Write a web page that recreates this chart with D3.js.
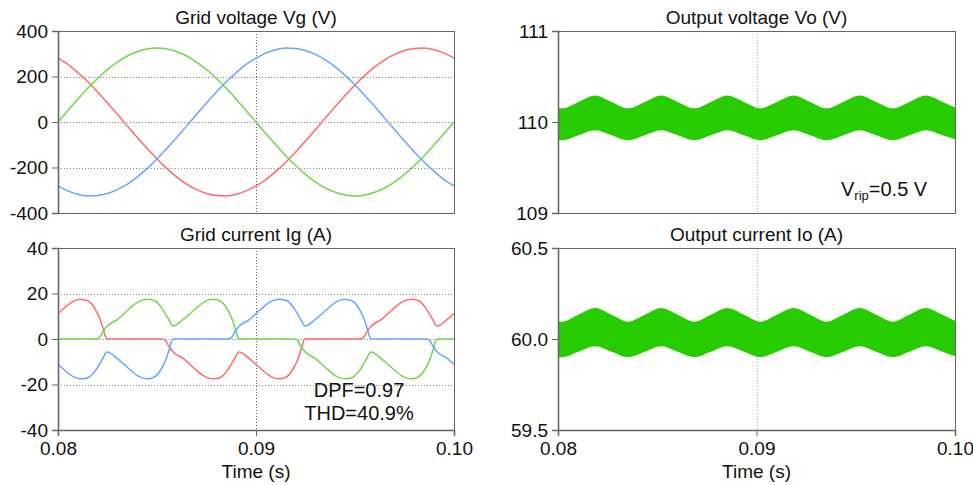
<!DOCTYPE html>
<html>
<head>
<meta charset="utf-8">
<script src="https://cdn.jsdelivr.net/npm/d3@7"></script>
<style>
	body { margin: 0; background: #fff; }
	text { font-family: "Liberation Sans", Arial, sans-serif; fill: #111; }
</style>
</head>
<body>
<div id="chartDiv"></div>
<script>

// time axis (ms, labelled in s)
var timeTicks = [80, 90, 100];
var vgTicks = [-400, -200, 0, 200, 400];
var igTicks = [-40, -20, 0, 20, 40];
var voTicks = [109, 110, 111];
var ioTicks = [59.5, 60.0, 60.5];

// grid voltage, sampled every 0.5 ms
var vgTime = [80,80.5,81,81.5,82,82.5,83,83.5,84,84.5,85,85.5,86,86.5,87,87.5,88,88.5,89,89.5,90,
	90.5,91,91.5,92,92.5,93,93.5,94,94.5,95,95.5,96,96.5,97,97.5,98,98.5,99,99.5,100];
var vgRed = [281,253,217,177,132,84,34,-17,-68,-116,-163,-205,-242,-273,-297,-314,-323,-325,-318,-303,-281,
	-253,-217,-177,-132,-84,-34,17,68,116,163,205,242,273,297,314,323,325,318,303,281];
var vgGreen = [0,51,100,148,191,230,263,290,309,321,325,321,309,290,263,230,191,148,100,51,0,
	-51,-100,-148,-191,-230,-263,-290,-309,-321,-325,-321,-309,-290,-263,-230,-191,-148,-100,-51,0];
var vgBlue = [-281,-303,-318,-325,-323,-314,-297,-273,-242,-205,-163,-116,-68,-17,34,84,132,177,217,253,281,
	303,318,325,323,314,297,273,242,205,163,116,68,17,-34,-84,-132,-177,-217,-253,-281];

// grid current [t ms, A]
var igRed = [[80.00,11.2],[80.16,12.4],[80.66,16.0],[80.94,17.2],[81.16,17.5],[81.50,16.8],[81.86,13.4],[82.11,9.0],[82.28,4.5],[82.38,1.5],[82.46,0],
	[85.26,0],[85.43,-0.7],[85.60,-3.2],[85.82,-5.7],[86.32,-8.5],[86.82,-12.4],[87.32,-16.0],[87.62,-17.2],[87.88,-17.5],[88.22,-16.8],[88.55,-13.9],[88.89,-9.1],[89.14,-5.7],
	[89.66,-8.6],[90.16,-12.4],[90.66,-16.0],[90.94,-17.2],[91.16,-17.5],[91.50,-16.8],[91.86,-13.4],[92.11,-9.0],[92.28,-4.5],[92.38,-1.5],[92.46,0],
	[95.26,0],[95.43,0.7],[95.60,3.2],[95.82,5.7],[96.32,8.5],[96.82,12.4],[97.32,16.0],[97.62,17.2],[97.88,17.5],[98.22,16.8],[98.55,13.9],[98.89,9.1],[99.14,5.7],
	[99.66,8.6],[100.00,11.2]];
var igGreen = [[80,0],[81.93,0],[82.10,0.7],[82.27,3.2],[82.49,5.7],[82.99,8.5],[83.49,12.4],[83.99,16.0],[84.29,17.2],[84.55,17.5],[84.89,16.8],[85.22,13.9],[85.56,9.1],[85.81,5.7],
	[86.33,8.6],[86.83,12.4],[87.33,16.0],[87.61,17.2],[87.83,17.5],[88.17,16.8],[88.53,13.4],[88.78,9.0],[88.95,4.5],[89.05,1.5],[89.13,0],
	[91.93,0],[92.10,-0.7],[92.27,-3.2],[92.49,-5.7],[92.99,-8.5],[93.49,-12.4],[93.99,-16.0],[94.29,-17.2],[94.55,-17.5],[94.89,-16.8],[95.22,-13.9],[95.56,-9.1],[95.81,-5.7],
	[96.33,-8.6],[96.83,-12.4],[97.33,-16.0],[97.61,-17.2],[97.83,-17.5],[98.17,-16.8],[98.53,-13.4],[98.78,-9.0],[98.95,-4.5],[99.05,-1.5],[99.13,0],[100,0]];
var igBlue = [[80.00,-11.2],[80.16,-12.4],[80.66,-16.0],[80.96,-17.2],[81.22,-17.5],[81.56,-16.8],[81.89,-13.9],[82.23,-9.1],[82.48,-5.7],
	[83.00,-8.6],[83.50,-12.4],[84.00,-16.0],[84.28,-17.2],[84.50,-17.5],[84.84,-16.8],[85.20,-13.4],[85.45,-9.0],[85.62,-4.5],[85.72,-1.5],[85.80,0],
	[88.60,0],[88.77,0.7],[88.94,3.2],[89.16,5.7],[89.66,8.5],[90.16,12.4],[90.66,16.0],[90.96,17.2],[91.22,17.5],[91.56,16.8],[91.89,13.9],[92.23,9.1],[92.48,5.7],
	[93.00,8.6],[93.50,12.4],[94.00,16.0],[94.28,17.2],[94.50,17.5],[94.84,16.8],[95.20,13.4],[95.45,9.0],[95.62,4.5],[95.72,1.5],[95.80,0],
	[98.60,0],[98.77,-0.7],[98.94,-3.2],[99.16,-5.7],[99.66,-8.5],[100.00,-11.2]];

// output ripple envelopes (switching band), peaks / troughs / midpoints
var rippleTime = [80.0,80.2,81.03,81.87,82.7,83.53,84.37,85.2,86.03,86.87,87.7,88.53,89.37,90.2,91.03,91.87,92.7,93.53,94.37,95.2,96.03,96.87,97.7,98.53,99.37,100.0];
var voUpper = [110.15,110.15,110.22,110.29,110.22,110.15,110.22,110.29,110.22,110.15,110.22,110.29,110.22,110.15,110.22,110.29,110.22,110.15,110.22,110.29,110.22,110.15,110.22,110.29,110.22,110.16];
var voLower = [109.80,109.80,109.855,109.91,109.855,109.80,109.855,109.91,109.855,109.80,109.855,109.91,109.855,109.80,109.855,109.91,109.855,109.80,109.855,109.91,109.855,109.80,109.855,109.91,109.855,109.81];
var ioUpper = [60.095,60.095,60.133,60.17,60.133,60.095,60.133,60.17,60.133,60.095,60.133,60.17,60.133,60.095,60.133,60.17,60.133,60.095,60.133,60.17,60.133,60.095,60.133,60.17,60.133,60.10];
var ioLower = [59.90,59.90,59.93,59.96,59.93,59.90,59.93,59.96,59.93,59.90,59.93,59.96,59.93,59.90,59.93,59.96,59.93,59.90,59.93,59.96,59.93,59.90,59.93,59.96,59.93,59.905];

;(function() {

	var width = 973;
	var height = 485;
	var fontSize = 19;
	var red = "#ff6a6a", green = "#6cd94a", blue = "#62a8ff", band = "#27cc00";

	// plain hyphen for negatives, like the original plot
	var fmtInt = function(d) { return String(d); };
	var fmtOne = function(d) { return d.toFixed(1); };

	var svg = d3.select("#chartDiv").append("svg")
		.attr("width", width)
		.attr("height", height);

	function panel(o) {
		var g = svg.append("g").attr("transform", "translate(" + o.left + "," + o.top + ")");
		var x = d3.scaleLinear().domain([80, 100]).range([0, o.w]);
		var y = d3.scaleLinear().domain(o.yDomain).range([o.h, 0]);

		g.append("clipPath").attr("id", o.id + "-clip")
			.append("rect").attr("width", o.w).attr("height", o.h);

		// grid
		if (o.hGrid) {
			g.selectAll(".hgrid").data(o.yTicks.slice(1, -1)).enter().append("line")
				.attr("x1", 0).attr("x2", o.w)
				.attr("y1", function(d) { return Math.round(y(d)) + 0.5; })
				.attr("y2", function(d) { return Math.round(y(d)) + 0.5; })
				.attr("stroke", "#888").attr("stroke-dasharray", "1,2");
		}
		g.append("line")
			.attr("x1", Math.round(x(90)) + 0.5).attr("x2", Math.round(x(90)) + 0.5)
			.attr("y1", 0).attr("y2", o.h)
			.attr("stroke", o.vColor).attr("stroke-dasharray", "1,2");

		var plot = g.append("g").attr("clip-path", "url(#" + o.id + "-clip)");
		o.draw(plot, x, y);

		g.append("rect").attr("x", 0.5).attr("y", 0.5)
			.attr("width", o.w).attr("height", o.h)
			.attr("fill", "none").attr("stroke", "#666");

		var yAxis = g.append("g")
			.call(d3.axisLeft(y).tickValues(o.yTicks).tickSize(6).tickPadding(4).tickFormat(o.yFormat))
			.attr("font-size", fontSize).attr("font-family", null);
		yAxis.select(".domain").attr("stroke", "#666").attr("stroke-width", 1.6);
		yAxis.selectAll(".tick line").attr("stroke", "#666");
		yAxis.selectAll("text").attr("fill", "#111");

		if (o.showX) {
			var xAxis = g.append("g").attr("transform", "translate(0," + o.h + ")")
				.call(d3.axisBottom(x).tickValues(timeTicks).tickSize(6).tickPadding(6)
					.tickFormat(function(d) { return (d / 1000).toFixed(2); }))
				.attr("font-size", fontSize).attr("font-family", null);
			xAxis.select(".domain").attr("stroke", "#666").attr("stroke-width", 1.6);
			xAxis.selectAll(".tick line").attr("stroke", "#666");
			xAxis.selectAll("text").attr("fill", "#111");

			g.append("text")
				.attr("text-anchor", "middle")
				.attr("x", o.w / 2).attr("y", o.h + 48)
				.style("font-size", fontSize + "px")
				.text("Time (s)");
		}

		g.append("text")
			.attr("text-anchor", "middle")
			.attr("x", o.w / 2).attr("y", -7)
			.style("font-size", fontSize + "px")
			.text(o.title);

		return g;
	}

	function drawLines(series) {
		return function(plot, x, y) {
			series.forEach(function(s) {
				var line = d3.line()
					.x(function(d) { return x(d[0]); })
					.y(function(d) { return y(d[1]); })
					.curve(d3.curveMonotoneX);
				plot.append("path").datum(s.data)
					.attr("d", line)
					.attr("fill", "none")
					.attr("stroke", s.color)
					.attr("stroke-width", 1.5);
			});
		};
	}

	function drawBand(upper, lower) {
		return function(plot, x, y) {
			var area = d3.area()
				.x(function(d, i) { return x(rippleTime[i]); })
				.y0(function(d, i) { return y(lower[i]); })
				.y1(function(d, i) { return y(upper[i]); })
				.curve(d3.curveMonotoneX);
			plot.append("path").datum(upper)
				.attr("d", area)
				.attr("fill", band);
		};
	}

	function zipTime(vals) {
		return vals.map(function(v, i) { return [vgTime[i], v]; });
	}

	panel({
		id: "vg", left: 58, top: 31, w: 396, h: 182,
		yDomain: [-400, 400], yTicks: vgTicks, yFormat: fmtInt,
		hGrid: true, vColor: "#666", showX: false,
		title: "Grid voltage Vg (V)",
		draw: drawLines([
			{ data: zipTime(vgRed), color: red },
			{ data: zipTime(vgGreen), color: green },
			{ data: zipTime(vgBlue), color: blue }
		])
	});

	var ig = panel({
		id: "ig", left: 58, top: 248, w: 396, h: 182,
		yDomain: [-40, 40], yTicks: igTicks, yFormat: fmtInt,
		hGrid: true, vColor: "#666", showX: true,
		title: "Grid current Ig (A)",
		draw: drawLines([
			{ data: igRed, color: red },
			{ data: igGreen, color: green },
			{ data: igBlue, color: blue }
		])
	});

	ig.append("text").attr("text-anchor", "middle")
		.attr("x", 301).attr("y", 149).style("font-size", "20px")
		.text("DPF=0.97");
	ig.append("text").attr("text-anchor", "middle")
		.attr("x", 301).attr("y", 172).style("font-size", "20px")
		.text("THD=40.9%");

	var vo = panel({
		id: "vo", left: 558, top: 31, w: 397, h: 182,
		yDomain: [109, 111], yTicks: voTicks, yFormat: fmtInt,
		hGrid: false, vColor: "#aaa", showX: false,
		title: "Output voltage Vo (V)",
		draw: drawBand(voUpper, voLower)
	});

	var vrip = vo.append("text").attr("x", 283).attr("y", 165).style("font-size", "20px");
	vrip.append("tspan").text("V");
	vrip.append("tspan").attr("dy", 4).style("font-size", "13px").text("rip");
	vrip.append("tspan").attr("dy", -4).text("=0.5 V");

	panel({
		id: "io", left: 558, top: 248, w: 397, h: 182,
		yDomain: [59.5, 60.5], yTicks: ioTicks, yFormat: fmtOne,
		hGrid: false, vColor: "#aaa", showX: true,
		title: "Output current Io (A)",
		draw: drawBand(ioUpper, ioLower)
	});

})();
</script>
</body>
</html>
